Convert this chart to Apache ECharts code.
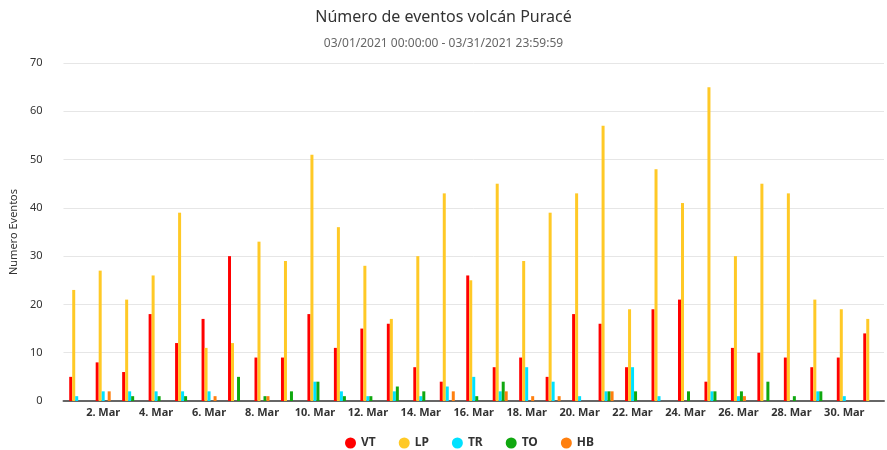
<!DOCTYPE html>
<html>
<head>
<meta charset="utf-8">
<script src="https://cdn.jsdelivr.net/npm/echarts@6/dist/echarts.min.js"></script>
<style>
  html, body { margin: 0; padding: 0; background: #fff; }
  #chart { width: 887px; height: 450px; }
</style>
</head>
<body>
<div id="chart"></div>
<script>
// Days of March 2021
const days = [];
for (let d = 1; d <= 31; d++) days.push(d + '. Mar');

// Event counts per day
const vtData = [5, 8, 6, 18, 12, 17, 30, 9, 9, 18, 11, 15, 16, 7, 4, 26, 7, 9, 5, 18, 16, 7, 19, 21, 4, 11, 10, 9, 7, 9, 14];
const lpData = [23, 27, 21, 26, 39, 11, 12, 33, 29, 51, 36, 28, 17, 30, 43, 25, 45, 29, 39, 43, 57, 19, 48, 41, 65, 30, 45, 43, 21, 19, 17];
const trData = [1, 2, 2, 2, 2, 2, 0, 0, 0, 4, 2, 1, 2, 1, 3, 5, 2, 7, 4, 1, 2, 7, 1, 0, 2, 1, 0, 0, 2, 1, 0];
const toData = [0, 0, 1, 1, 1, 0, 5, 1, 2, 4, 1, 1, 3, 2, 0, 1, 4, 0, 0, 0, 2, 2, 0, 2, 2, 2, 4, 1, 2, 0, 0];
const hbData = [0, 2, 0, 0, 0, 1, 0, 1, 0, 0, 0, 0, 0, 0, 2, 0, 2, 1, 1, 0, 2, 0, 0, 0, 0, 1, 0, 0, 0, 0, 0];

const font = 'Noto Sans';

function barSeries(name, color, data) {
  return {
    name: name,
    type: 'bar',
    barWidth: 3,
    barGap: '0%',
    itemStyle: { color: color },
    data: data
  };
}

const option = {
  animation: false,
  textStyle: { fontFamily: font },
  title: {
    text: 'Número de eventos volcán Puracé',
    subtext: '03/01/2021 00:00:00 - 03/31/2021 23:59:59',
    left: 'center',
    top: 4,
    itemGap: 13,
    textStyle: { fontSize: 16, fontWeight: 'normal', color: '#333', fontFamily: font },
    subtextStyle: { fontSize: 12, color: '#666', fontFamily: font }
  },
  legend: {
    data: ['VT', 'LP', 'TR', 'TO', 'HB'],
    top: 432,
    left: 340,
    icon: 'circle',
    itemWidth: 11,
    itemHeight: 11,
    itemGap: 23,
    textStyle: { fontSize: 12, fontWeight: 'bold', color: '#333', fontFamily: font }
  },
  grid: {
    left: 63,
    right: 3,
    top: 63,
    bottom: 49
  },
  xAxis: {
    type: 'category',
    data: days,
    axisLine: { lineStyle: { color: '#666', width: 2 } },
    axisTick: {
      alignWithLabel: true,
      interval: function (i) { return i % 2 === 1; },
      length: 8,
      lineStyle: { color: '#444' }
    },
    axisLabel: {
      interval: function (i) { return i % 2 === 1; },
      fontSize: 11,
      fontWeight: 'bold',
      color: '#333',
      margin: 6
    }
  },
  yAxis: {
    type: 'value',
    min: 0,
    max: 70,
    interval: 10,
    name: 'Numero Eventos',
    nameLocation: 'middle',
    nameRotate: 90,
    nameGap: 44,
    nameTextStyle: { fontSize: 11, color: '#333' },
    axisLabel: { fontSize: 11, color: '#333', margin: 21 },
    splitLine: { lineStyle: { color: '#e6e6e6' } }
  },
  series: [
    barSeries('VT', '#ff0000', vtData),
    barSeries('LP', '#ffc926', lpData),
    barSeries('TR', '#00e1ff', trData),
    barSeries('TO', '#10a810', toData),
    barSeries('HB', '#ff7f0e', hbData)
  ]
};

const chart = echarts.init(document.getElementById('chart'));
chart.setOption(option);
</script>
</body>
</html>
